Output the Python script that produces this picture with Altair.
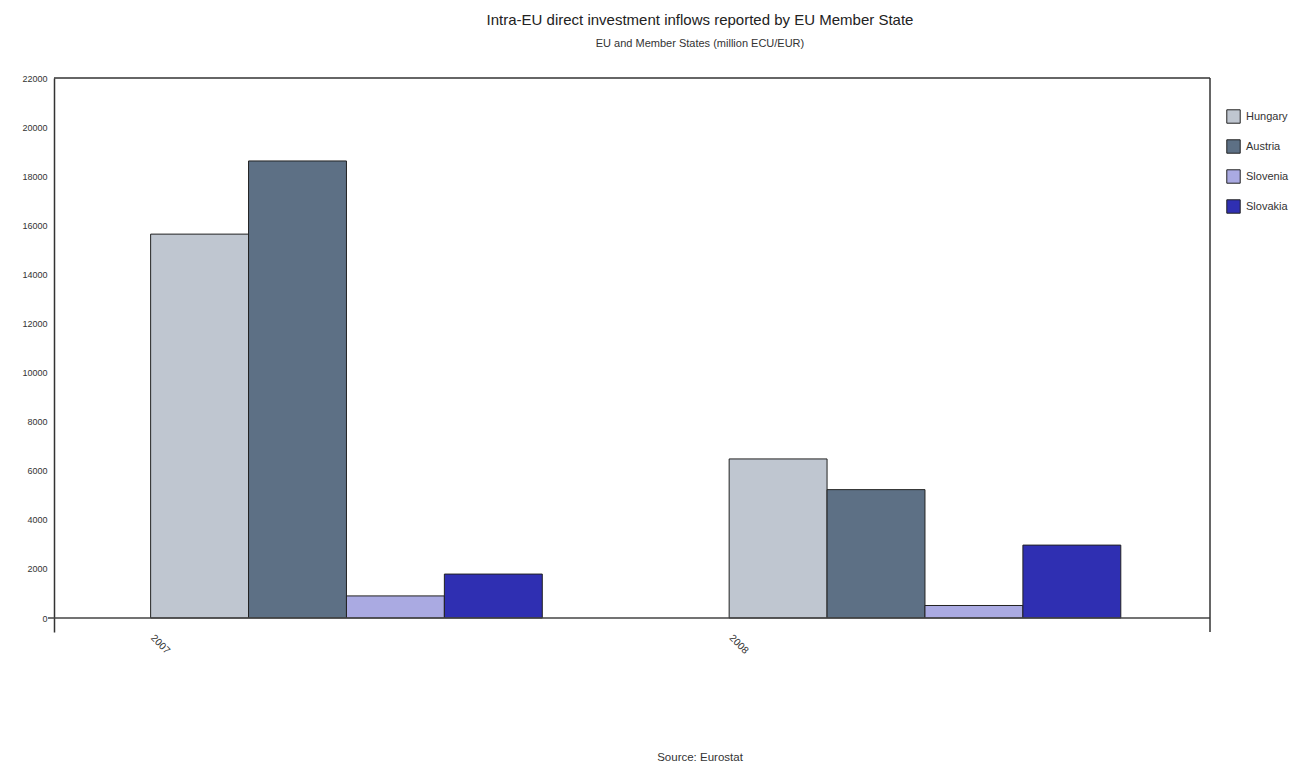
import altair as alt
import pandas as pd

years = ["2007", "2008"]
countries = ["Hungary", "Austria", "Slovenia", "Slovakia"]
colors = ["#BFC6D0", "#5D7085", "#AAAAE2", "#2F2FB2"]
values = {
    "Hungary": [15640, 6480],
    "Austria": [18620, 5230],
    "Slovenia": [900, 510],
    "Slovakia": [1790, 2970],
}
y_ticks = list(range(0, 22001, 2000))

rows = []
for c in countries:
    for i, y in enumerate(years):
        rows.append({"year": y, "country": c, "value": values[c][i]})
df = pd.DataFrame(rows)

W, H = 1156, 554
FONT = "Liberation Sans"

bars = alt.Chart(df).mark_bar(stroke="#222222", strokeWidth=1).encode(
    x=alt.X("year:N", sort=years, title=None,
            scale=alt.Scale(paddingInner=0.323, paddingOuter=0.1606, align=0.52),
            axis=alt.Axis(labelAngle=45, labelAlign="left", labelBaseline="middle",
                          labelOffset=-194, labelPadding=4, ticks=False, domain=False,
                          grid=False, labelFontSize=10, labelColor="#333333", labelFont=FONT)),
    xOffset=alt.XOffset("country:N", sort=countries, scale=alt.Scale(paddingInner=0, paddingOuter=0)),
    y=alt.Y("value:Q", title=None,
            scale=alt.Scale(domain=[-570, 22000], nice=False, zero=False),
            axis=alt.Axis(values=y_ticks, format="d", ticks=False, grid=False, domain=True,
                          domainColor="#333333", domainWidth=1.5, labelPadding=7,
                          labelFontSize=9, labelColor="#333333", labelFont=FONT)),
    y2=alt.datum(0),
    color=alt.Color("country:N", sort=countries,
                    scale=alt.Scale(domain=countries, range=colors),
                    legend=alt.Legend(title=None, orient="none", legendX=1172, legendY=31,
                                      symbolType="square", symbolSize=180,
                                      symbolStrokeColor="#222222", symbolStrokeWidth=1,
                                      symbolOpacity=1, labelFontSize=11, labelFont=FONT,
                                      labelColor="#333333", rowPadding=11, labelOffset=5)),
)

frame_df = pd.DataFrame({"k": [0]})
top_rule = alt.Chart(frame_df).mark_rule(color="#333333", strokeWidth=1.5).encode(
    x=alt.value(0), x2=alt.value(W), y=alt.value(0))
right_rule = alt.Chart(frame_df).mark_rule(color="#333333", strokeWidth=1.5).encode(
    x=alt.value(W), y=alt.value(0), y2=alt.value(H))
zero_rule = alt.Chart(frame_df).mark_rule(color="#444444", strokeWidth=1.5).encode(
    x=alt.value(-6), x2=alt.value(W), y=alt.datum(0))
source = alt.Chart(pd.DataFrame({"t": ["Source: Eurostat"]})).mark_text(
    fontSize=11.5, font=FONT, color="#333333", align="center", baseline="middle").encode(
    text="t:N", x=alt.value(646), y=alt.value(680))

chart = alt.layer(bars, zero_rule, top_rule, right_rule, source).properties(
    width=W, height=H, background="white",
    title=alt.TitleParams(
        text="Intra-EU direct investment inflows reported by EU Member State",
        subtitle="EU and Member States (million ECU/EUR)",
        anchor="middle", dx=68, offset=25, font=FONT, fontSize=15, fontWeight="normal",
        color="#222222", subtitleFont=FONT, subtitleFontSize=11, subtitleColor="#333333",
        subtitlePadding=10),
    autosize=alt.AutoSizeParams(type="none"),
    padding={"left": 54, "top": 78, "right": 80, "bottom": 133},
).configure_view(strokeWidth=0, stroke=None).configure_axisX(domain=False, grid=False)

chart.save("out.html", embed_options={"renderer": "svg", "actions": False})
